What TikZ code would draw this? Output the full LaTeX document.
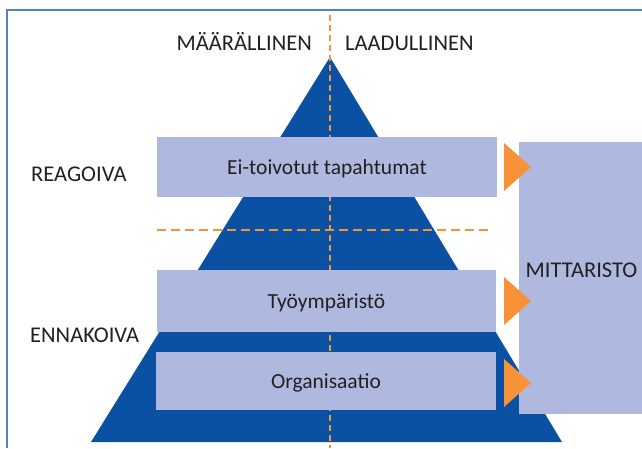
\documentclass[tikz,border=0pt]{standalone}
\usepackage{fontspec}
\setmainfont{Carlito}
\definecolor{pyrblue}{HTML}{0B51A3}
\definecolor{lavender}{HTML}{AFB8DE}
\definecolor{mark}{HTML}{F79239}
\definecolor{framecol}{HTML}{5483C4}
\definecolor{ink}{HTML}{231F20}
\tikzset{
  frameline/.style={draw=framecol, line width=1.6pt},
  pyrfill/.style={fill=pyrblue},
  guide/.style={draw=mark, line width=2pt},
  levelbox/.style={fill=lavender, inner sep=0pt, text=ink,
    font=\fontsize{21.5}{25}\selectfont, text height=14pt, text depth=0pt},
  sidelabel/.style={inner sep=0pt, text=ink, font=\fontsize{22.5}{26}\selectfont},
  pointer/.style={fill=mark}
}
\begin{document}
\begin{tikzpicture}[x=1pt,y=-1pt]
\useasboundingbox (0,0) rectangle (642,448);

% outer frame
\coordinate (fbl) at (7,448);
\coordinate (ftl) at (7,10);
\coordinate (ftr) at (642,10);
\draw[frameline] (fbl) -- (ftl) -- (ftr);

% pyramid
\coordinate (apex) at (330,57);
\coordinate (bl) at (91,442);
\coordinate (br) at (562,442);
\fill[pyrfill] (apex) -- (br) -- (bl) -- cycle;

% dashed guide lines
\coordinate (vtop) at (330,15);
\coordinate (vbot) at (330,448);
\draw[guide, dash pattern=on 6pt off 4pt] (vtop) -- (vbot);
\coordinate (hl) at (157,230);
\coordinate (hr) at (492,230);
\draw[guide, dash pattern=on 9pt off 5pt] (hl) -- (hr);

% levels
\node[levelbox, minimum width=340pt, minimum height=60pt] (ei) at (327,167) {Ei-toivotut tapahtumat};
\node[levelbox, minimum width=339pt, minimum height=62pt] (tyo) at (326.5,301) {Työympäristö};
\node[levelbox, minimum width=340pt, minimum height=58pt] (org) at (326,381) {Organisaatio};

% measurement block
\node[fill=lavender, inner sep=0pt, minimum width=123pt, minimum height=272pt] (mitt) at (580.5,278) {};
\node[sidelabel, anchor=base] (mittlabel) at (581.5,277) {MITTARISTO};

% orange pointers
\fill[pointer] (504,143) -- (531,167) -- (504,191) -- cycle;
\fill[pointer] (504,277) -- (531,301) -- (504,325) -- cycle;
\fill[pointer] (504,359) -- (531,383) -- (504,407) -- cycle;

% axis labels
\node[sidelabel, anchor=base east] (maar) at (312,50) {MÄÄRÄLLINEN};
\node[sidelabel, anchor=base west] (laad) at (345,50) {LAADULLINEN};
\node[sidelabel, anchor=base west] (reag) at (31,181) {REAGOIVA};
\node[sidelabel, anchor=base west] (enna) at (30,342) {ENNAKOIVA};
\end{tikzpicture}
\end{document}
